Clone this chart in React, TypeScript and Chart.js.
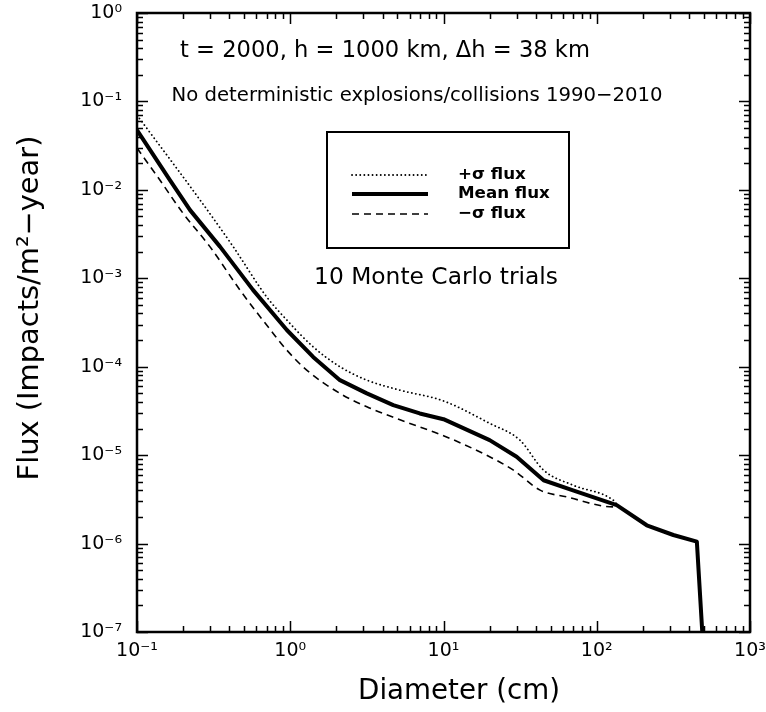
import React, { useEffect, useRef } from "react";
import { Chart, registerables } from "chart.js";

Chart.register(...registerables);

// ---- data ----
const meanDiameter = [0.1, 0.164, 0.222, 0.348, 0.571, 0.95, 1.41, 2.11, 3.16, 4.7, 7.0, 10, 20, 30, 45, 70, 135, 212, 316, 450, 500];
const meanFlux = [4.75e-2, 1.29e-2, 5.9e-3, 2.28e-3, 7.4e-4, 2.6e-4, 1.29e-4, 7.05e-5, 4.99e-5, 3.68e-5, 2.96e-5, 2.55e-5, 1.48e-5, 9.6e-6, 5.2e-6, 4.0e-6, 2.72e-6, 1.61e-6, 1.25e-6, 1.05e-6, 5e-8];

const plusDiameter = [0.1, 0.258, 0.424, 0.701, 0.95, 1.41, 2.11, 3.16, 5.2, 10, 20, 31.5, 45, 70, 128, 135];
const plusFlux = [7.0e-2, 7.67e-3, 2.28e-3, 6.18e-4, 3.37e-4, 1.68e-4, 1.0e-4, 7.05e-5, 5.43e-5, 4.1e-5, 2.29e-5, 1.48e-5, 6.76e-6, 4.58e-6, 3.1e-6, 2.8e-6];

const minusDiameter = [0.1, 0.141, 0.2, 0.299, 0.47, 0.774, 0.95, 1.28, 2.11, 3.16, 5.2, 10, 18.2, 28.6, 42.7, 63.7, 128, 135];
const minusFlux = [2.97e-2, 1.29e-2, 5.42e-3, 2.28e-3, 7.36e-4, 2.38e-4, 1.54e-4, 9.16e-5, 4.99e-5, 3.52e-5, 2.51e-5, 1.66e-5, 1.04e-5, 6.76e-6, 4.02e-6, 3.37e-6, 2.6e-6, 2.65e-6];

const xTickValues = [0.1, 1, 10, 100, 1000];
const yTickValues = [1, 1e-1, 1e-2, 1e-3, 1e-4, 1e-5, 1e-6, 1e-7];
const seriesLabels = ["+σ flux", "Mean flux", "−σ flux"];
const titleLine1 = "t = 2000, h = 1000 km, Δh = 38 km";
const titleLine2 = "No deterministic explosions/collisions 1990−2010";
const trialsText = "10 Monte Carlo trials";
const xTitle = "Diameter (cm)";
const yTitle = "Flux (Impacts/m²−year)";

const FONT = '"DejaVu Sans"';
const SUP: Record<string, string> = {
  "0": "⁰", "1": "¹", "2": "²", "3": "³", "4": "⁴", "5": "⁵", "6": "⁶", "7": "⁷", "8": "⁸", "9": "⁹", "-": "⁻",
};
function powLabel(v: number): string {
  const e = Math.round(Math.log10(v));
  return "10" + String(e).split("").map((c) => SUP[c]).join("");
}

function drawFitted(
  ctx: CanvasRenderingContext2D, text: string, x: number, y: number, width: number,
  weight = "normal", align: CanvasTextAlign = "center", rotate = false
) {
  ctx.save();
  ctx.font = `${weight} 100px ${FONT}`;
  const w = ctx.measureText(text).width;
  const size = (100 * width) / w;
  ctx.font = `${weight} ${size}px ${FONT}`;
  ctx.fillStyle = "#000";
  ctx.textAlign = align;
  ctx.textBaseline = "middle";
  ctx.translate(x, y);
  if (rotate) ctx.rotate(-Math.PI / 2);
  ctx.fillText(text, 0, 0);
  ctx.restore();
}

const decorPlugin = {
  id: "decor",
  afterDraw(chart: any) {
    const ctx: CanvasRenderingContext2D = chart.ctx;
    const xs = chart.scales.x;
    const ys = chart.scales.y;
    const { left, right, top, bottom } = chart.chartArea;
    ctx.save();
    ctx.strokeStyle = "#000";
    // inward ticks on all four sides
    ctx.lineWidth = 1.5;
    ctx.beginPath();
    for (let n = -1; n <= 3; n++) {
      for (let k = 1; k <= 9; k++) {
        if (n === 3 && k > 1) break;
        const v = k * Math.pow(10, n);
        const px = Math.round(xs.getPixelForValue(v)) + 0.5;
        const len = k === 1 ? 11 : 6;
        ctx.moveTo(px, bottom); ctx.lineTo(px, bottom - len);
        ctx.moveTo(px, top); ctx.lineTo(px, top + len);
      }
    }
    for (let n = -7; n <= 0; n++) {
      for (let k = 1; k <= 9; k++) {
        if (n === 0 && k > 1) break;
        const v = k * Math.pow(10, n);
        const py = Math.round(ys.getPixelForValue(v)) + 0.5;
        const len = k === 1 ? 11 : 6;
        ctx.moveTo(left, py); ctx.lineTo(left + len, py);
        ctx.moveTo(right, py); ctx.lineTo(right - len, py);
      }
    }
    ctx.stroke();
    // frame
    ctx.lineWidth = 2.5;
    ctx.strokeRect(left, top, right - left, bottom - top);

    // legend box
    const ds = chart.data.datasets;
    ctx.lineWidth = 2;
    ctx.strokeRect(327, 132, 242, 116);
    const rows = [175, 194, 214];
    const order = [0, 1, 2];
    order.forEach((di, r) => {
      const d = ds[di];
      ctx.save();
      ctx.strokeStyle = "#000";
      ctx.lineWidth = d.borderWidth;
      ctx.setLineDash(d.borderDash || []);
      ctx.lineCap = d.borderCapStyle || "butt";
      ctx.beginPath();
      ctx.moveTo(352, rows[r]);
      ctx.lineTo(428, rows[r]);
      ctx.stroke();
      ctx.restore();
    });
    // legend texts (size fitted to "Mean flux" width)
    ctx.save();
    ctx.font = `bold 100px ${FONT}`;
    const lsize = (100 * 92) / ctx.measureText(seriesLabels[1]).width;
    ctx.font = `bold ${lsize}px ${FONT}`;
    ctx.fillStyle = "#000";
    ctx.textAlign = "left";
    ctx.textBaseline = "middle";
    order.forEach((di, r) => ctx.fillText(ds[di].label, 458, rows[r]));
    ctx.restore();

    // annotations
    drawFitted(ctx, titleLine1, 385, 51, 410);
    drawFitted(ctx, titleLine2, 417, 96, 491);
    drawFitted(ctx, trialsText, 436, 278, 244);
    // axis titles
    drawFitted(ctx, xTitle, 459, 692, 202);
    drawFitted(ctx, yTitle, 30, 308, 345, "normal", "center", true);
    ctx.restore();
  },
};

export default function App() {
  const ref = useRef<HTMLCanvasElement | null>(null);
  useEffect(() => {
    if (!ref.current) return;
    const pts = (xs: number[], ys: number[]) => xs.map((x, i) => ({ x, y: ys[i] }));
    const tickFont = { family: FONT, size: 19 };
    const chart = new Chart(ref.current, {
      type: "scatter",
      data: {
        datasets: [
          {
            label: seriesLabels[0],
            data: pts(plusDiameter, plusFlux),
            showLine: true,
            borderColor: "#000",
            borderWidth: 1.8,
            borderDash: [0.1, 4],
            borderCapStyle: "round",
            pointRadius: 0,
            cubicInterpolationMode: "monotone",
          },
          {
            label: seriesLabels[1],
            data: pts(meanDiameter, meanFlux),
            showLine: true,
            borderColor: "#000",
            borderWidth: 4,
            borderJoinStyle: "round",
            pointRadius: 0,
            tension: 0,
          },
          {
            label: seriesLabels[2],
            data: pts(minusDiameter, minusFlux),
            showLine: true,
            borderColor: "#000",
            borderWidth: 1.6,
            borderDash: [7, 5],
            pointRadius: 0,
            cubicInterpolationMode: "monotone",
          },
        ],
      } as any,
      options: {
        responsive: false,
        maintainAspectRatio: false,
        animation: false,
        layout: { padding: { left: 0, top: 13, right: 16, bottom: 0 } },
        plugins: { legend: { display: false }, tooltip: { enabled: false } },
        scales: {
          x: {
            type: "logarithmic",
            min: 0.1,
            max: 1000,
            position: "bottom",
            grid: { display: false, drawTicks: false },
            border: { display: false },
            afterBuildTicks: (s: any) => {
              s.ticks = xTickValues.map((v) => ({ value: v }));
            },
            afterFit: (s: any) => {
              s.height = 80;
              s.paddingLeft = 0;
              s.paddingRight = 0;
            },
            ticks: {
              callback: (v: any) => powLabel(Number(v)),
              font: tickFont,
              color: "#000",
              padding: 8,
              maxRotation: 0,
              autoSkip: false,
            },
          },
          y: {
            type: "logarithmic",
            min: 1e-7,
            max: 1,
            position: "left",
            grid: { display: false, drawTicks: false },
            border: { display: false },
            afterBuildTicks: (s: any) => {
              s.ticks = yTickValues.map((v) => ({ value: v }));
            },
            afterFit: (s: any) => {
              s.width = 137;
              s.paddingTop = 0;
              s.paddingBottom = 0;
            },
            ticks: {
              callback: (v: any) => powLabel(Number(v)),
              font: tickFont,
              color: "#000",
              padding: 15,
              autoSkip: false,
            },
          },
        },
      } as any,
      plugins: [decorPlugin],
    });
    return () => chart.destroy();
  }, []);
  return (
    <canvas
      ref={ref}
      width={766}
      height={712}
      style={{ position: "absolute", left: 0, top: 0, width: 766, height: 712, background: "#fff" }}
    />
  );
}
